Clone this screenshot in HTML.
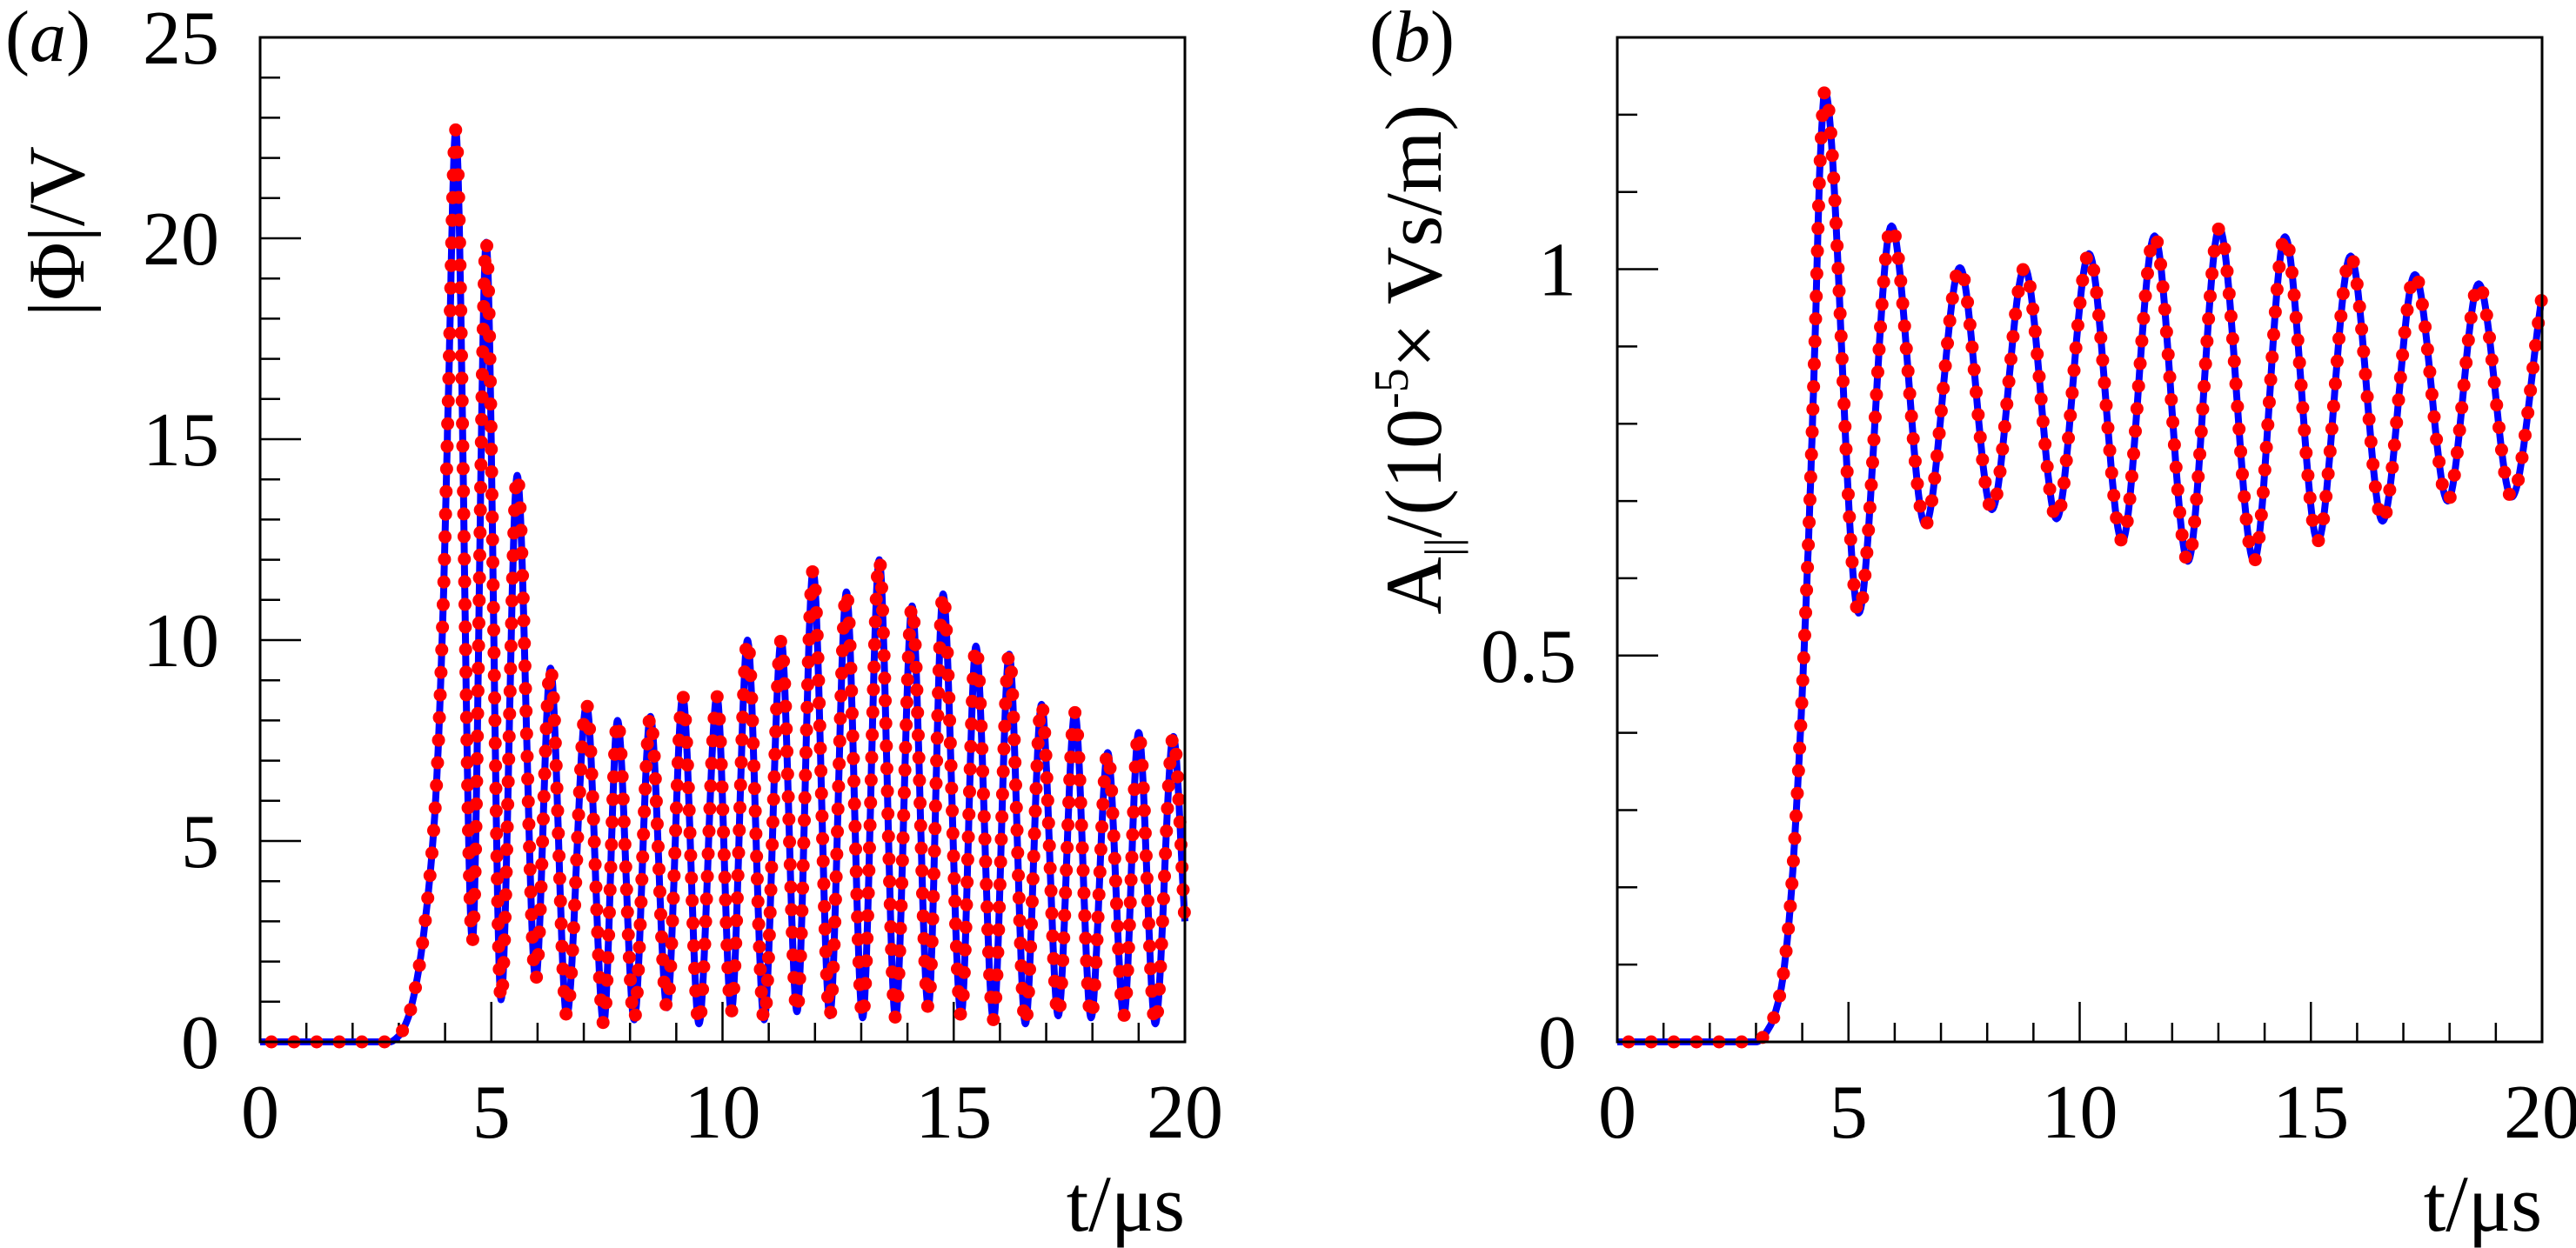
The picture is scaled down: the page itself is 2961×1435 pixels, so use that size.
<!DOCTYPE html>
<html><head><meta charset="utf-8"><style>
html,body{margin:0;padding:0;background:#fff;}
svg{display:block;}
text{font-family:"Liberation Serif","DejaVu Serif","Times New Roman",serif;}
</style></head><body>
<svg id="chart" width="2961" height="1435" viewBox="0 0 2961 1435" xmlns="http://www.w3.org/2000/svg">
<g id="pa"></g>
<g id="pb"></g>
</svg>
<script>
const timesA=[0,2.8,3.0,3.2,3.4,3.57,3.79,3.96,4.07,4.23,4.59,4.89,5.21,5.56,5.96,6.28,6.63,7.06,7.43,7.73,8.09,8.44,8.8,9.14,9.49,9.88,10.19,10.54,10.9,11.27,11.61,11.96,12.32,12.68,13.03,13.39,13.74,14.1,14.45,14.77,15.16,15.48,15.86,16.2,16.55,16.9,17.26,17.62,17.97,18.33,18.68,19.0,19.36,19.75,20];
const valuesA=[0,0,0.15,0.6,1.6,3.0,5.9,10.9,16,22.7,2.5,19.9,1.05,14.1,1.55,9.3,0.65,8.4,0.45,8.0,0.55,8.1,0.85,8.6,0.45,8.6,0.75,10.0,0.55,10.0,0.75,11.75,0.65,11.2,0.6,12.0,0.6,10.85,0.85,11.15,0.65,9.85,0.55,9.65,0.45,8.4,0.65,8.2,0.6,7.2,0.65,7.7,0.45,7.6,3.0];
const timesB=[0,3.0,3.3,3.53,3.71,3.89,4.03,4.16,4.28,4.39,4.49,5.22,5.93,6.66,7.41,8.1,8.81,9.5,10.2,10.92,11.62,12.34,13.02,13.77,14.44,15.15,15.86,16.55,17.25,17.96,18.63,19.34,20];
const valuesB=[0,0,0.02,0.065,0.153,0.318,0.493,0.69,0.916,1.143,1.231,0.555,1.056,0.669,1.002,0.689,1.002,0.677,1.02,0.648,1.043,0.622,1.053,0.622,1.042,0.648,1.017,0.674,0.993,0.7,0.981,0.705,0.966];
const xTicksMajor=[0,5,10,15,20];
const yTicksA=[0,5,10,15,20,25];
const yTicksB=[0,0.5,1];
const yTickLabelsB=["0","0.5","1"];

const NS="http://www.w3.org/2000/svg";
const FF="Liberation Serif, DejaVu Serif, serif";
function mk(tag,attrs,parent){const e=document.createElementNS(NS,tag);for(const k in attrs)e.setAttribute(k,attrs[k]);if(tag==='text')e.setAttribute('font-family',FF);parent.appendChild(e);return e;}

function monotone(xs,ys){
  const n=xs.length,d=[],m=new Array(n).fill(0);
  for(let i=0;i<n-1;i++)d.push((ys[i+1]-ys[i])/(xs[i+1]-xs[i]));
  m[0]=d[0];m[n-1]=d[n-2];
  for(let i=1;i<n-1;i++){ if(d[i-1]*d[i]<=0)m[i]=0; else {const w1=2*(xs[i+1]-xs[i])+(xs[i]-xs[i-1]),w2=(xs[i+1]-xs[i])+2*(xs[i]-xs[i-1]);m[i]=(w1+w2)/(w1/d[i-1]+w2/d[i]);} }
  const out=[];
  for(let i=0;i<n-1;i++){const h=xs[i+1]-xs[i];
    for(let k=0;k<30;k++){const t=k/30,t2=t*t,t3=t2*t;
      const y=(2*t3-3*t2+1)*ys[i]+(t3-2*t2+t)*h*m[i]+(-2*t3+3*t2)*ys[i+1]+(t3-t2)*h*m[i+1];
      out.push([xs[i]+t*h,y]);}}
  out.push([xs[n-1],ys[n-1]]);return out;
}

function panel(g,opt){
  const L=opt.left,R=opt.left+1063,T=43,B=1198;
  const sx=v=>L+(v-0)/(20-0)*(R-L);
  const sy=v=>B-(v-0)/(opt.ymax-0)*(B-T);
  for(let t=0;t<=20;t++){
    const major=xTicksMajor.includes(t);
    const tk=mk('line',{x1:sx(t),x2:sx(t),y1:B,y2:B-(major?46:22),stroke:'#000','stroke-width':2.5},g);
    
    
  }
  xTicksMajor.forEach(t=>{
    const tx=mk('text',{x:sx(t),y:1308,'font-size':88,'text-anchor':'middle'},g);tx.textContent=String(t);
    
    
  });
  for(let v=0;v<=opt.ymax+1e-9;v+=opt.minor){
    const vv=Math.round(v/opt.minor)*opt.minor;
    const major=opt.yMajor.some(m=>Math.abs(m-vv)<1e-6);
    const tk=mk('line',{x1:L,x2:L+(major?47:23),y1:sy(vv),y2:sy(vv),stroke:'#000','stroke-width':2.5},g);
    
    
  }
  opt.yMajor.forEach((v,i)=>{
    const tx=mk('text',{x:opt.ylabX,y:sy(v)+30,'font-size':88,'text-anchor':'end'},g);tx.textContent=opt.yLabels[i];
    
    
  });
  const pts=monotone(opt.xs,opt.ys).map(p=>[sx(p[0]),sy(Math.max(0,p[1]))]);
  const line=mk('path',{d:'M'+pts.map(p=>p[0].toFixed(1)+','+p[1].toFixed(1)).join('L'),fill:'none',stroke:'#0000ff','stroke-width':8,'stroke-linejoin':'round'},g);
  
  
  let acc=13,step=26;
  const dg=mk('g',{},g);
  
  
  for(let i=1;i<pts.length;i++){
    const dx=pts[i][0]-pts[i-1][0],dy=pts[i][1]-pts[i-1][1],len=Math.hypot(dx,dy);
    let pos=0;
    while(acc+(len-pos)>=step){const need=step-acc;pos+=need;acc=0;const f=pos/len;
      const c=mk('circle',{cx:pts[i-1][0]+dx*f,cy:pts[i-1][1]+dy*f,r:7.5,fill:'#ff0000'},dg);
      
      }
    acc+=len-pos;
  }
  const fr=mk('rect',{x:L,y:T,width:R-L,height:B-T,fill:'none',stroke:'#000','stroke-width':3},g);
  
  
  const xl=mk('text',{x:R,y:1415,'font-size':92,'text-anchor':'end'},g);xl.textContent='t/μs';
  
  
}

const pa=document.getElementById('pa'),pb=document.getElementById('pb');
panel(pa,{left:299,ymax:25,minor:1,yMajor:yTicksA,yLabels:yTicksA.map(String),ylabX:252,xs:timesA,ys:valuesA});
panel(pb,{left:1859,ymax:1.3,minor:0.1,yMajor:yTicksB,yLabels:yTickLabelsB,ylabX:1812,xs:timesB,ys:valuesB});

let t=mk('text',{x:6,y:70,'font-size':84},pa);t.innerHTML='(<tspan font-style="italic">a</tspan>)';


t=mk('text',{x:1574,y:70,'font-size':84},pb);t.innerHTML='(<tspan font-style="italic">b</tspan>)';


t=mk('text',{x:0,y:0,'font-size':92,'text-anchor':'end',transform:'translate(96,168) rotate(-90)'},pa);t.textContent='|Φ|/V';


t=mk('text',{x:0,y:0,'font-size':92,'text-anchor':'end',transform:'translate(1656,120) rotate(-90)'},pb);
t.innerHTML='A<tspan font-size="55" dy="20">||</tspan><tspan dy="-20">/(10</tspan><tspan font-size="56" dy="-38">-5</tspan><tspan dy="38">× Vs/m)</tspan>';


</script>
</body></html>
